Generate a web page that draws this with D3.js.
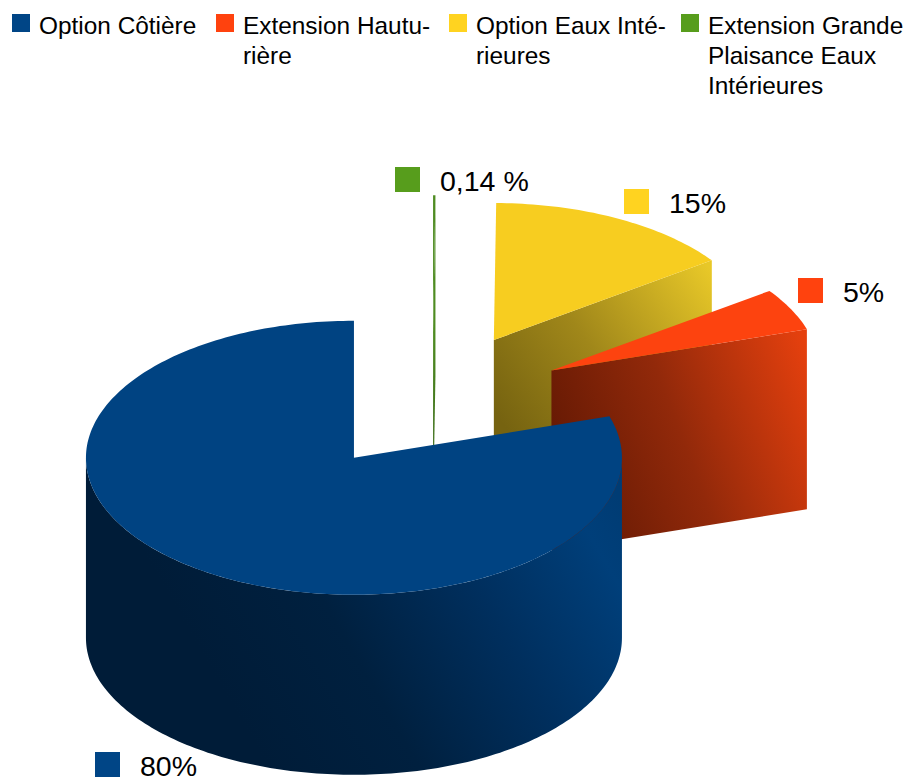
<!DOCTYPE html>
<html>
<head>
<meta charset="utf-8">
<script src="https://cdnjs.cloudflare.com/ajax/libs/d3/7.8.5/d3.min.js"></script>
<style>
  html, body { margin: 0; padding: 0; background: #fff; }
  text { font-family: "Liberation Sans", Arial, sans-serif; fill: #000; }
</style>
</head>
<body>
<div id="root"></div>
<script>
// Chart data
const categories = ["Option Côtière", "Extension Hauturière", "Option Eaux Intérieures", "Extension Grande Plaisance Eaux Intérieures"];
const values = [80, 5, 15, 0.14];
const valueLabels = ["80%", "5%", "15%", "0,14 %"];
const colors = ["#004586", "#ff420e", "#ffd320", "#579d1c"];
const topColors = ["#004382", "#fd430f", "#f7cd20", "#4f8c22"];

// Legend text, wrapped like the original
const legendLines = [
  ["Option Côtière"],
  ["Extension Hautu-", "rière"],
  ["Option Eaux Inté-", "rieures"],
  ["Extension Grande", "Plaisance Eaux", "Intérieures"]
];

const width = 907;
const height = 778;

// Pie geometry
const cx = 432.5;
const cy = 401.7;
const rx = 268;
const ry = 137;
const depth = 180;
const explodeX = 133;
const explodeY = 69.5;

const svg = d3
  .select("#root")
  .append("svg")
  .attr("width", width)
  .attr("height", height)
  .style("display", "block");

const defs = svg.append("defs");

function addGradient(id, x1, y1, x2, y2, stops) {
  const g = defs
    .append("linearGradient")
    .attr("id", id)
    .attr("gradientUnits", "userSpaceOnUse")
    .attr("x1", x1)
    .attr("y1", y1)
    .attr("x2", x2)
    .attr("y2", y2);
  stops.forEach(s => {
    g.append("stop").attr("offset", s[0]).attr("stop-color", s[1]);
  });
}

addGradient("wall0", 240, 720, 620, 500, [
  [0, "#001c38"],
  [0.3, "#00203f"],
  [0.62, "#002f5e"],
  [0.9, "#003f7a"],
  [1, "#003c74"]
]);
addGradient("wall1", 552, 440, 806, 345, [
  [0, "#661a04"],
  [0.45, "#92290a"],
  [1, "#e5400e"]
]);
addGradient("wall2", 500, 420, 711, 270, [
  [0, "#766310"],
  [0.45, "#a0871a"],
  [1, "#e8c828"]
]);
addGradient("wall3", 433, 333, 433, 450, [
  [0, "#4f8c22"],
  [1, "#3f6e1c"]
]);

// Slices run counter-clockwise from the top
const pie = d3
  .pie()
  .sort(null)
  .startAngle(0)
  .endAngle(-2 * Math.PI);

const slices = pie(values).map((d, i) => {
  // clockwise range, from lo to hi
  let lo = d.endAngle;
  let hi = d.startAngle;
  while (lo < 0) {
    lo += 2 * Math.PI;
    hi += 2 * Math.PI;
  }
  const mid = (lo + hi) / 2;
  return {
    index: i,
    lo: lo,
    hi: hi,
    x: cx + explodeX * Math.sin(mid),
    y: cy - explodeY * Math.cos(mid)
  };
});

function point(s, a, dy) {
  return [s.x + rx * Math.sin(a), s.y - ry * Math.cos(a) + (dy || 0)];
}

function arcPoints(s, a0, a1, dy) {
  const n = Math.max(2, Math.ceil(Math.abs(a1 - a0) / 0.02));
  return d3.range(n + 1).map(k => point(s, a0 + ((a1 - a0) * k) / n, dy));
}

const line = d3.line();

function drawSlice(s) {
  const g = svg.append("g").attr("class", "slice-" + s.index);

  // cut face on the clockwise end
  const faceTop = point(s, s.hi);
  g.append("path")
    .attr("d", line([[s.x, s.y], faceTop, [faceTop[0], faceTop[1] + depth], [s.x, s.y + depth]]) + "Z")
    .attr("fill", "url(#wall" + s.index + ")");

  // outer wall, only the part that faces the viewer
  const a0 = Math.max(s.lo, Math.PI / 2);
  const a1 = Math.min(s.hi, (3 * Math.PI) / 2);
  if (a1 > a0) {
    const pts = arcPoints(s, a0, a1, 0).concat(arcPoints(s, a1, a0, depth));
    g.append("path")
      .attr("d", line(pts) + "Z")
      .attr("fill", "url(#wall" + s.index + ")");
  }

  // top surface
  const top = [[s.x, s.y]].concat(arcPoints(s, s.lo, s.hi, 0));
  g.append("path")
    .attr("d", line(top) + "Z")
    .attr("fill", topColors[s.index]);
}

// back to front
[2, 3, 1, 0].forEach(i => drawSlice(slices[i]));

// Data labels
const labelPos = [
  { x: 95, y: 752 },
  { x: 798, y: 278 },
  { x: 624, y: 189 },
  { x: 395, y: 167 }
];

valueLabels.forEach((label, i) => {
  svg
    .append("rect")
    .attr("x", labelPos[i].x)
    .attr("y", labelPos[i].y)
    .attr("width", 25)
    .attr("height", 25)
    .attr("fill", colors[i]);
  svg
    .append("text")
    .attr("x", labelPos[i].x + 45)
    .attr("y", labelPos[i].y + 24)
    .attr("font-size", 28.5)
    .text(label);
});

// Legend
const legendX = [12, 216, 449, 681];

categories.forEach((c, i) => {
  svg
    .append("rect")
    .attr("x", legendX[i])
    .attr("y", 14)
    .attr("width", 18)
    .attr("height", 18)
    .attr("fill", colors[i]);
  legendLines[i].forEach((t, j) => {
    svg
      .append("text")
      .attr("x", legendX[i] + 27)
      .attr("y", 34 + j * 30)
      .attr("font-size", 24.4)
      .text(t);
  });
});
</script>
</body>
</html>
